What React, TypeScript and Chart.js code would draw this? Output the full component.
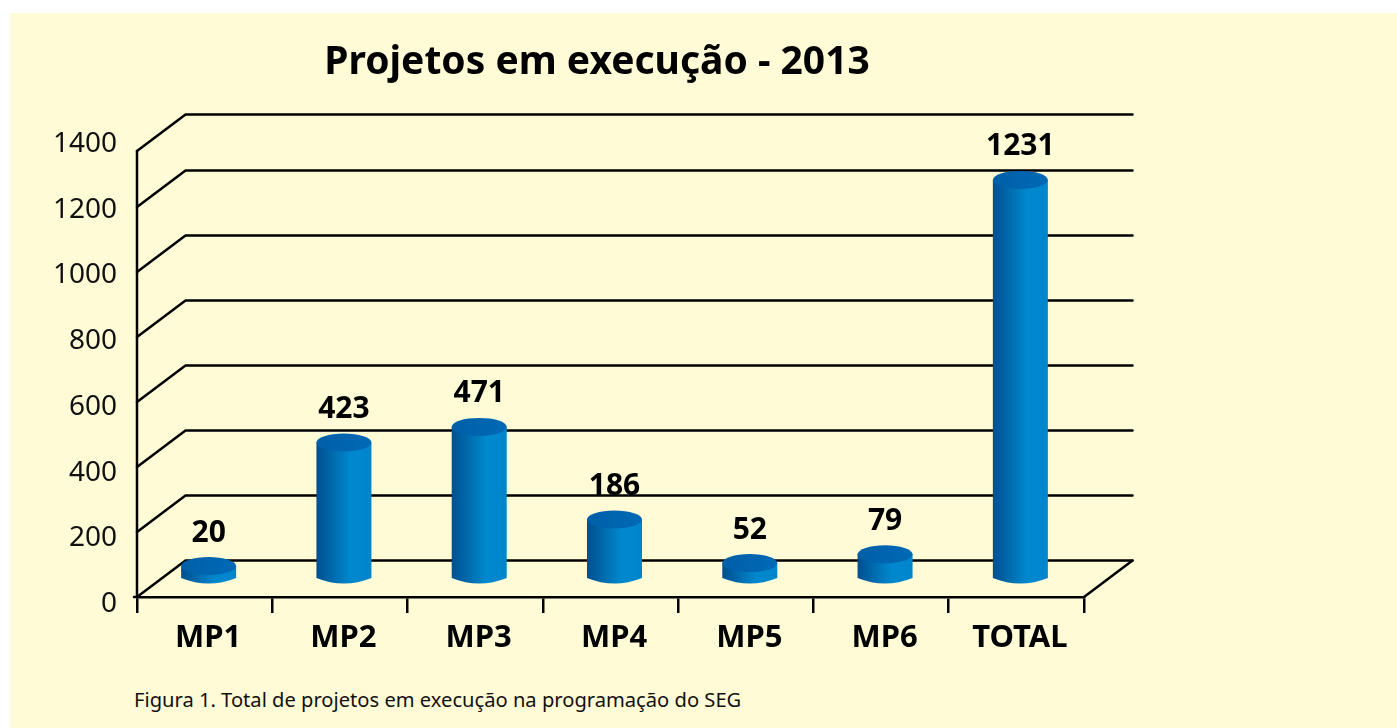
import React, { useEffect, useRef } from "react";
import { Chart, registerables } from "chart.js";

Chart.register(...registerables);

const categories = ["MP1", "MP2", "MP3", "MP4", "MP5", "MP6", "TOTAL"];
const projectCounts = [20, 423, 471, 186, 52, 79, 1231];
const yTicks = [0, 200, 400, 600, 800, 1000, 1200, 1400];
const wallLevels = [0, 200, 400, 600, 800, 1000, 1200, 1372];
const titleText = "Projetos em execução - 2013";
const captionText = "Figura 1. Total de projetos em execução na programação do SEG";

const FONT = '"Noto Sans", "Open Sans", sans-serif';
const PANEL = "#FFFBD6";
const LINE = 2.5;
const DEPTH_X = 48.5;
const DEPTH_Y = 36.5;
const BAR_SHIFT = 4;
const BAR_RX = 27.5;
const BAR_RY = 9;

const box3d = {
  id: "box3d",
  beforeDatasetsDraw(chart: any) {
    const { ctx, scales } = chart;
    const y = scales.yData;
    const left = chart.chartArea.left;
    const right = chart.chartArea.right;
    ctx.save();
    ctx.strokeStyle = "#000";
    ctx.lineWidth = LINE;
    ctx.lineCap = "round";
    ctx.lineJoin = "round";
    for (const level of wallLevels) {
      const p = y.getPixelForValue(level);
      ctx.beginPath();
      ctx.moveTo(left, p);
      ctx.lineTo(left + DEPTH_X, p - DEPTH_Y);
      ctx.lineTo(right + DEPTH_X, p - DEPTH_Y);
      ctx.stroke();
    }
    const p0 = y.getPixelForValue(0);
    ctx.beginPath();
    ctx.moveTo(right, p0);
    ctx.lineTo(right + DEPTH_X, p0 - DEPTH_Y);
    ctx.stroke();
    ctx.beginPath();
    ctx.moveTo(left, y.getPixelForValue(wallLevels[wallLevels.length - 1]));
    ctx.lineTo(left, p0);
    ctx.stroke();
    ctx.beginPath();
    ctx.moveTo(left - 3, p0);
    ctx.lineTo(left, p0);
    ctx.stroke();
    ctx.restore();
  },
};

const cylinders = {
  id: "cylinders",
  afterDatasetsDraw(chart: any) {
    const { ctx, scales } = chart;
    const y = scales.yData;
    const meta = chart.getDatasetMeta(0);
    const p0 = y.getPixelForValue(0);
    const baseEdge = p0 - 19;
    ctx.save();
    meta.data.forEach((bar: any, i: number) => {
      const cx = bar.x + BAR_SHIFT;
      const top = Math.min(y.getPixelForValue(projectCounts[i]) - 17, baseEdge - 12);
      const xl = cx - BAR_RX;
      const xr = cx + BAR_RX;
      const g = ctx.createLinearGradient(xl, 0, xr, 0);
      g.addColorStop(0, "#004F8F");
      g.addColorStop(0.62, "#0088CE");
      g.addColorStop(1, "#0085CB");
      ctx.fillStyle = g;
      ctx.beginPath();
      ctx.moveTo(xl, top);
      ctx.lineTo(xl, baseEdge);
      ctx.quadraticCurveTo(cx, baseEdge + 11, xr, baseEdge);
      ctx.lineTo(xr, top);
      ctx.closePath();
      ctx.fill();
      const t = ctx.createLinearGradient(xl, top, xr, top);
      t.addColorStop(0, "#005FA8");
      t.addColorStop(1, "#0069B6");
      ctx.fillStyle = t;
      ctx.beginPath();
      ctx.ellipse(cx, top, BAR_RX, BAR_RY, 0, 0, Math.PI * 2);
      ctx.fill();
      ctx.fillStyle = "#000";
      ctx.font = `bold 30px ${FONT}`;
      ctx.textAlign = "center";
      ctx.textBaseline = "middle";
      ctx.fillText(String(projectCounts[i]), cx, top - 33);
    });
    ctx.restore();
  },
};

export default function App() {
  const ref = useRef<HTMLCanvasElement>(null);
  useEffect(() => {
    if (!ref.current) return;
    const chart = new Chart(ref.current, {
      type: "bar",
      data: {
        labels: categories,
        datasets: [
          {
            data: projectCounts,
            yAxisID: "yData",
            backgroundColor: "rgba(0,0,0,0)",
            borderWidth: 0,
          },
        ],
      },
      options: {
        responsive: false,
        animation: false,
        layout: { padding: 0 },
        plugins: {
          legend: { display: false },
          tooltip: { enabled: false },
          title: {
            display: true,
            text: titleText,
            color: "#000",
            font: { family: FONT, size: 39, weight: "bold", lineHeight: 1.2 },
            padding: { top: 26, bottom: 51.2 },
          },
        },
        scales: {
          x: {
            grid: {
              offset: true,
              drawOnChartArea: false,
              tickLength: 16,
              color: "#000",
              lineWidth: LINE,
            },
            border: { color: "#000", width: LINE },
            ticks: {
              color: "#000",
              font: { family: FONT, size: 31, weight: "bold" },
              padding: 7,
              labelOffset: 3.5,
              maxRotation: 0,
              autoSkip: false,
            },
            afterFit(scale: any) {
              scale.height = 76;
            },
          },
          y: {
            min: 0,
            max: 1400,
            position: "left",
            grid: { display: false, drawTicks: false },
            border: { display: false },
            afterBuildTicks(scale: any) {
              scale.ticks = yTicks.map((value) => ({ value }));
            },
            ticks: {
              color: "#111",
              font: { family: FONT, size: 28 },
              padding: 20,
              labelOffset: 7,
              callback: (value: any) => String(value),
            },
            afterFit(scale: any) {
              scale.width = 127;
            },
          },
          yData: {
            position: "right",
            min: 0,
            max: 1415.4,
            grid: { display: false, drawTicks: false },
            border: { display: false },
            ticks: { display: false },
            afterFit(scale: any) {
              scale.width = 100;
            },
          },
        },
      },
      plugins: [box3d, cylinders],
    } as any);
    return () => chart.destroy();
  }, []);

  return (
    <div style={{ position: "fixed", inset: 0, background: "#fff", overflow: "hidden" }}>
      <div style={{ position: "absolute", left: 10, top: 13, right: 0, bottom: 0, background: PANEL }}>
        <canvas ref={ref} width={1174} height={660} style={{ position: "absolute", left: 0, top: 0, width: 1174, height: 660 }} />
        <div
          style={{
            position: "absolute",
            left: 124,
            top: 673,
            fontFamily: FONT,
            fontSize: 20.15,
            lineHeight: "26px",
            color: "#111",
            whiteSpace: "nowrap",
          }}
        >
          {captionText}
        </div>
      </div>
    </div>
  );
}
